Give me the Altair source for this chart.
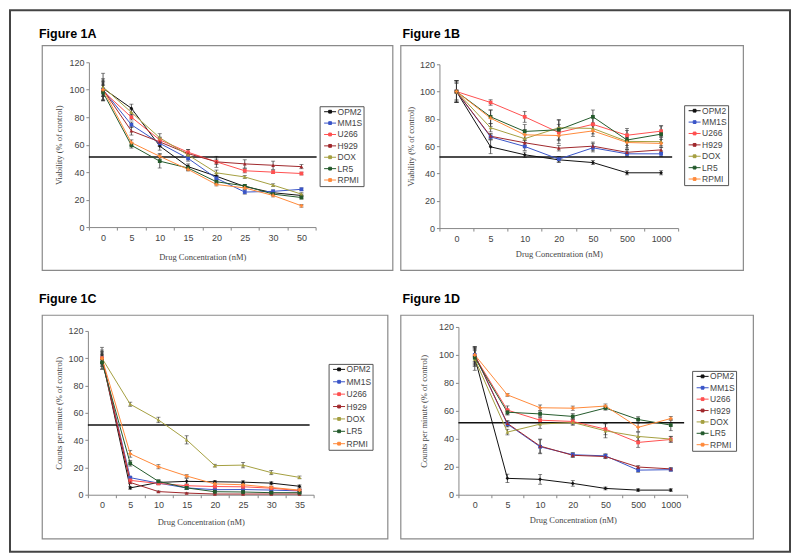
import altair as alt
import pandas as pd

series = ["OPM2", "MM1S", "U266", "H929", "DOX", "LR5", "RPMI"]
colors = ["#111111", "#3a55c8", "#ff5050", "#a0282c", "#a5a040", "#245a2c", "#ff8a3a"]
shapes = ["diamond", "square", "square", "triangle-up", "triangle-up", "square", "cross"]

# ---------------- Figure 1A ----------------
conc_a = ["0", "5", "10", "15", "20", "25", "30", "50"]
a_opm2 = [101, 86.5, 59, 44, 37, 29.5, 25, 23]
a_mm1s = [100, 74.5, 61, 50, 35.5, 25.5, 26, 27.5]
a_u266 = [99, 80, 63.5, 54.5, 47.5, 41, 40, 39]
a_h929 = [100, 70, 62, 53.5, 47.5, 46, 45, 44]
a_dox = [102, 83.5, 65, 52.5, 39.5, 36.5, 30.5, 24]
a_lr5 = [98, 59.5, 48, 43, 33, 30, 24, 21.5]
a_rpmi = [100, 61.5, 51.5, 42, 31, 28.5, 23, 15.5]
a_opm2_err = [6, 3, 3, 2, 2, 1, 1, 1]
a_mm1s_err = [5, 2, 2, 2, 2, 1.5, 1, 1]
a_u266_err = [7, 2, 2, 2, 2, 1.5, 1, 1]
a_h929_err = [8, 3, 3, 3, 4, 3, 3, 1.5]
a_dox_err = [10, 2, 3, 2, 2, 1, 1, 1]
a_lr5_err = [5, 2, 5, 2, 2, 1, 1, 1]
a_rpmi_err = [4, 2, 2, 1, 1, 1, 1, 1]

# ---------------- Figure 1B ----------------
conc_b = ["0", "5", "10", "20", "50", "500", "1000"]
b_opm2 = [100, 59.5, 53.7, 50, 48, 40.5, 40.5]
b_mm1s = [100, 66.8, 59.8, 50.5, 58.8, 54.4, 54.4]
b_u266 = [100, 92, 81.5, 70, 76, 68, 71]
b_h929 = [100, 67.3, 62.5, 58.5, 60, 55.5, 57.3]
b_dox = [100, 73.5, 65.5, 73.5, 73, 63.5, 63.3]
b_lr5 = [100, 81.5, 70.8, 72, 81.5, 64.5, 68.8]
b_rpmi = [100, 80.5, 68.3, 67.8, 71.2, 62.7, 62]
b_opm2_err = [8, 5, 2, 2, 1.5, 1.5, 1.5]
b_mm1s_err = [8, 2, 3, 2, 3, 2, 2]
b_u266_err = [8, 2, 4, 6, 5, 5, 4]
b_h929_err = [7, 2, 2, 2, 3, 2, 2]
b_dox_err = [7, 3, 3, 6, 4, 3, 3]
b_lr5_err = [8, 5, 5, 7, 5, 7, 6]
b_rpmi_err = [6, 6, 4, 6, 4, 4, 3]

# ---------------- Figure 1C ----------------
conc_c = ["0", "5", "10", "15", "20", "25", "30", "35"]
c_opm2 = [100, 5, 9, 9.8, 9.5, 9.2, 8.5, 6.2]
c_mm1s = [100, 12.5, 8.5, 5, 3.7, 3.8, 3.4, 2.8]
c_u266 = [100, 10.5, 8.3, 6.6, 6, 5.8, 4.8, 3]
c_h929 = [100, 9, 2.3, 1.2, 0.5, 0.5, 0.5, 0.5]
c_dox = [100, 66.3, 54.8, 40.2, 21.3, 21.7, 16.2, 12.7]
c_lr5 = [97, 23, 9.8, 5, 2.2, 2, 1.5, 1.5]
c_rpmi = [100, 30, 20.5, 13.7, 7.9, 7.3, 5.3, 3.4]
c_opm2_err = [8, 1, 1, 2, 1, 1, 1, 1]
c_mm1s_err = [6, 1, 1, 1, 1, 1, 1, 1]
c_u266_err = [5, 1, 1, 1, 1, 1, 1, 1]
c_h929_err = [4, 1, 0.5, 0.5, 0.5, 0.5, 0.5, 0.5]
c_dox_err = [3, 1.5, 2, 3, 1, 2, 1.5, 1]
c_lr5_err = [5, 2, 1, 1, 0.5, 0.5, 0.5, 0.5]
c_rpmi_err = [3, 2.5, 1.5, 1, 1, 1, 1, 1]

# ---------------- Figure 1D ----------------
conc_d = ["0", "5", "10", "20", "50", "500", "1000"]
d_opm2 = [98, 11.7, 11, 8.1, 4.5, 3.3, 3.3]
d_mm1s = [100, 50.5, 34.3, 28.6, 27.8, 17.6, 17.9]
d_u266 = [99, 60.5, 53.3, 52.4, 46.9, 37.4, 39.5]
d_h929 = [100, 51, 34.8, 28.2, 27.3, 19.8, 18.5]
d_dox = [97, 44.8, 50.5, 51.7, 45.7, 41.7, 39.8]
d_lr5 = [98, 59, 57.8, 56, 62, 53.8, 49.8]
d_rpmi = [100, 71.4, 62.2, 61.9, 63.4, 48.2, 54.5]
d_opm2_err = [6, 3, 3.5, 2, 1, 1, 1]
d_mm1s_err = [5, 2, 5, 1.5, 1.5, 1.5, 1]
d_u266_err = [7, 3, 2, 2, 4, 3.5, 2]
d_h929_err = [6, 2, 5, 1.5, 1.5, 1, 1]
d_dox_err = [8, 2, 3, 2, 5, 3, 2]
d_lr5_err = [5, 2, 2, 2, 1.5, 2, 4]
d_rpmi_err = [5, 1, 2, 1.5, 1.5, 3, 1.5]

y_ticks = [0, 20, 40, 60, 80, 100, 120]
x_title = "Drug Concentration (nM)"

SANS = "Liberation Sans"
SERIF = "Liberation Serif"
LEG_PATH = "M-1.5,0H1.5M-0.35,-0.35H0.35V0.35H-0.35Z"


def panel(name, ytitle, conc, vals, errs, ref, box_w, box_h, ax_x, x_end,
          y_top, y_bot, leg_x, leg_y, ref_end, t_x, t_y, xt_pad, yt_pad,
          leg_row=2.4, outer=None):
    rows = []
    for s, v, e in zip(series, vals, errs):
        for c, vv, ee in zip(conc, v, e):
            rows.append({"conc": c, "series": s, "value": vv,
                         "lo": vv - ee, "hi": vv + ee})
    df = pd.DataFrame(rows)

    xs = alt.Scale(type="band", domain=conc, range=[ax_x, x_end],
                   paddingInner=0, paddingOuter=0)
    ys = alt.Scale(domain=[0, 120], range=[y_bot, y_top], nice=False, zero=False)
    xaxis = alt.Axis(title=x_title, offset=-(box_h - y_bot), labelAngle=0,
                     tickBand="extent", tickSize=3, tickColor="#888",
                     domainColor="#888", labelFont=SANS, labelFontSize=9,
                     labelColor="#444", labelPadding=3, titleFont=SERIF,
                     titleFontSize=8.5, titleFontWeight="normal",
                     titleColor="#444", titlePadding=xt_pad, grid=False)
    yaxis = alt.Axis(title=ytitle, offset=-ax_x, values=y_ticks, format="d",
                     tickSize=3, tickColor="#888", domainColor="#888",
                     labelFont=SANS, labelFontSize=9, labelColor="#444",
                     labelPadding=2, titleFont=SERIF, titleFontSize=8.5,
                     titleFontWeight="normal", titleColor="#444",
                     titlePadding=yt_pad, grid=False)
    X = alt.X("conc:N", scale=xs, axis=xaxis)
    Yv = alt.Y("value:Q", scale=ys, axis=yaxis, title=ytitle)
    Ylo = alt.Y("lo:Q", scale=ys, axis=yaxis, title=ytitle)
    Yhi = alt.Y("hi:Q", scale=ys, axis=yaxis, title=ytitle)

    cscale = alt.Scale(domain=series, range=colors)
    base = alt.Chart(df)
    bars = base.mark_rule(strokeWidth=0.8, color="#333").encode(
        x=X, y=Ylo, y2="hi:Q", detail="series:N")
    cap_lo = base.mark_tick(size=4, thickness=0.8, color="#333",
                            orient="horizontal").encode(x=X, y=Ylo, detail="series:N")
    cap_hi = base.mark_tick(size=4, thickness=0.8, color="#333",
                            orient="horizontal").encode(x=X, y=Yhi, detail="series:N")
    lines = base.mark_line(strokeWidth=1).encode(
        x=X, y=Yv,
        color=alt.Color("series:N", scale=cscale, legend=alt.Legend(
            orient="none", legendX=leg_x, legendY=leg_y, title=None,
            strokeColor="#555", fillColor="white", padding=1,
            symbolType=LEG_PATH, symbolSize=64, symbolStrokeWidth=1,
            symbolOffset=5, labelOffset=3, labelFont=SANS, labelFontSize=8.5,
            labelColor="#444", rowPadding=leg_row)))
    pts = base.mark_point(size=14, filled=True, opacity=1).encode(
        x=X, y=Yv,
        color=alt.Color("series:N", scale=cscale, legend=None),
        shape=alt.Shape("series:N", scale=alt.Scale(domain=series, range=shapes),
                        legend=None))

    refline = alt.Chart(pd.DataFrame({"ref": [ref]})).mark_rule(
        color="#111", strokeWidth=1.5).encode(
        y=alt.Y("ref:Q", scale=ys, axis=yaxis, title=ytitle),
        x=alt.value(ax_x), x2=alt.value(ref_end))

    label = alt.Chart(pd.DataFrame({"t": [name]})).mark_text(
        font=SANS, fontSize=12.5, fontWeight="bold", align="left",
        baseline="alphabetic", color="#000").encode(
        x=alt.value(t_x), y=alt.value(t_y), text="t:N")

    layers = [bars, cap_lo, cap_hi, refline, lines, pts, label]
    if outer is not None:
        border = alt.Chart(pd.DataFrame({"k": [0]})).mark_rect(
            fill="transparent", stroke="#444", strokeWidth=2).encode(
            x=alt.value(outer[0]), x2=alt.value(outer[1]),
            y=alt.value(outer[2]), y2=alt.value(outer[3]))
        layers = [border] + layers
    return alt.layer(*layers).properties(width=box_w, height=box_h)


pA = panel("Figure 1A", "Viability (% of control)", conc_a,
           [a_opm2, a_mm1s, a_u266, a_h929, a_dox, a_lr5, a_rpmi],
           [a_opm2_err, a_mm1s_err, a_u266_err, a_h929_err, a_dox_err, a_lr5_err, a_rpmi_err],
           51, 351, 225, 47, 274, 17, 182, 278, 61, 275, -3, -7, 10, 5,
           outer=(-32, 749, -35, 507))
pB = panel("Figure 1B", "Viability (% of control)", conc_b,
           [b_opm2, b_mm1s, b_u266, b_h929, b_dox, b_lr5, b_rpmi],
           [b_opm2_err, b_mm1s_err, b_u266_err, b_h929_err, b_dox_err, b_lr5_err, b_rpmi_err],
           52, 343, 225, 39, 278, 19, 183, 284, 60, 272, 2, -7, 6, 4)
pC = panel("Figure 1C", "Counts per minute (% of control)", conc_c,
           [c_opm2, c_mm1s, c_u266, c_h929, c_dox, c_lr5, c_rpmi],
           [c_opm2_err, c_mm1s_err, c_u266_err, c_h929_err, c_dox_err, c_lr5_err, c_rpmi_err],
           51, 346, 224, 46, 272, 16, 180, 287, 49, 268, -3, -12, 8, 4,
           leg_row=3.4)
pD = panel("Figure 1D", "Counts per minute (% of control)", conc_d,
           [d_opm2, d_mm1s, d_u266, d_h929, d_dox, d_lr5, d_rpmi],
           [d_opm2_err, d_mm1s_err, d_u266_err, d_h929_err, d_dox_err, d_lr5_err, d_rpmi_err],
           51.5, 353, 224, 58, 287, 12, 180, 292, 56, 284, 2, -12, 6, 10)

chart = alt.concat(pA, pB, pC, pD, columns=2,
                   spacing={"row": 45, "column": 8},
                   bounds="flush", align="each").resolve_scale(
    color="independent").resolve_legend(color="independent").configure_view(
    stroke="#8a8a8a", strokeWidth=1.2).configure_legend(
    strokeWidth=1).properties(padding=0, background="white")

chart.save("out.html", embed_options={"renderer": "svg", "actions": False})
